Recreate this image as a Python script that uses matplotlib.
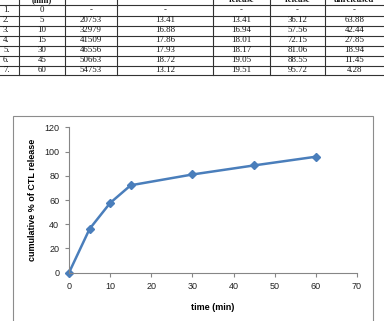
import matplotlib
matplotlib.use("Agg")
import matplotlib.pyplot as plt
from matplotlib.lines import Line2D
from matplotlib.patches import Rectangle

# table rows (top of the page, header cut off)
sno = ["1.", "2.", "3.", "4.", "5.", "6.", "7."]
time_min = [0, 5, 10, 15, 30, 45, 60]
peak_area = ["-", "20753", "32979", "41509", "46556", "50663", "54753"]
amount = ["-", "13.41", "16.88", "17.86", "17.93", "18.72", "13.12"]
corrected = ["-", "13.41", "16.94", "18.01", "18.17", "19.05", "19.51"]
pct_release = ["-", "36.12", "57.56", "72.15", "81.06", "88.55", "95.72"]
pct_unreleased = ["-", "63.88", "42.44", "27.85", "18.94", "11.45", "4.28"]
headers = ["", "(min)", "", "", "release", "release", "unreleased"]

# chart series
cum_release = [0, 36.12, 57.56, 72.15, 81.06, 88.55, 95.72]

W, H = 384, 321
fig = plt.figure(figsize=(W / 100, H / 100), dpi=100)


def fx(px):
    return px / W


def fy(py):
    return 1 - py / H


# ---- table ----
col_edges = [0, 19, 65, 117, 213, 270, 325, 384]
row_lines = [5, 15.5, 25.5, 35.5, 45.5, 55.5, 65.5, 75.3]
tfont = dict(family="Liberation Serif", size=6.3, color="#111111")

for y in row_lines:
    fig.add_artist(Line2D([0, 1], [fy(y), fy(y)], color="#333333", lw=0.8))
for x in col_edges[1:-1]:
    fig.add_artist(Line2D([fx(x), fx(x)], [fy(75.3), 1], color="#333333", lw=0.8))

centers = [(col_edges[i] + col_edges[i + 1]) / 2 for i in range(7)]
for j, h in enumerate(headers):
    if h:
        fig.text(fx(centers[j]), fy(0.5), h, ha="center", va="center",
                 fontweight="bold", **tfont)
for i in range(7):
    row = [sno[i], str(time_min[i]), peak_area[i], amount[i], corrected[i],
           pct_release[i], pct_unreleased[i]]
    yc = (row_lines[i] + row_lines[i + 1]) / 2
    for j, val in enumerate(row):
        if j == 0:
            fig.text(fx(3), fy(yc), val, ha="left", va="center", **tfont)
        else:
            fig.text(fx(centers[j]), fy(yc), val, ha="center", va="center", **tfont)

# ---- chart box ----
fig.add_artist(Rectangle((fx(13), -0.02), fx(373) - fx(13), fy(116) + 0.02,
                         fill=False, edgecolor="#8c8c8c", lw=0.8))

ax = fig.add_axes([fx(69), fy(272.7), fx(357) - fx(69), fy(127.3) - fy(272.7)])
ax.plot(time_min, cum_release, color="#4a7ebb", lw=1.8, marker="D", ms=4.5,
        markerfacecolor="#4a7ebb", markeredgecolor="#4a7ebb", clip_on=False)
ax.set_xlim(0, 70)
ax.set_ylim(0, 120)
ax.set_xticks(range(0, 71, 10))
ax.set_yticks(range(0, 121, 20))
for s in ["top", "right"]:
    ax.spines[s].set_visible(False)
for s in ["left", "bottom"]:
    ax.spines[s].set_color("#868686")
    ax.spines[s].set_linewidth(0.8)
ax.tick_params(direction="out", length=3, width=0.8, color="#868686",
               labelsize=6.5, labelcolor="#222222", pad=4)
for lab in ax.get_xticklabels() + ax.get_yticklabels():
    lab.set_family("Liberation Sans")
ax.set_xlabel("time (min)", fontsize=6.5, fontweight="bold",
              family="Liberation Sans", labelpad=8)
ax.set_ylabel("cumulative % of CTL release", fontsize=6.5, fontweight="bold",
              family="Liberation Sans", labelpad=5)

fig.savefig("out.png", dpi=100)
